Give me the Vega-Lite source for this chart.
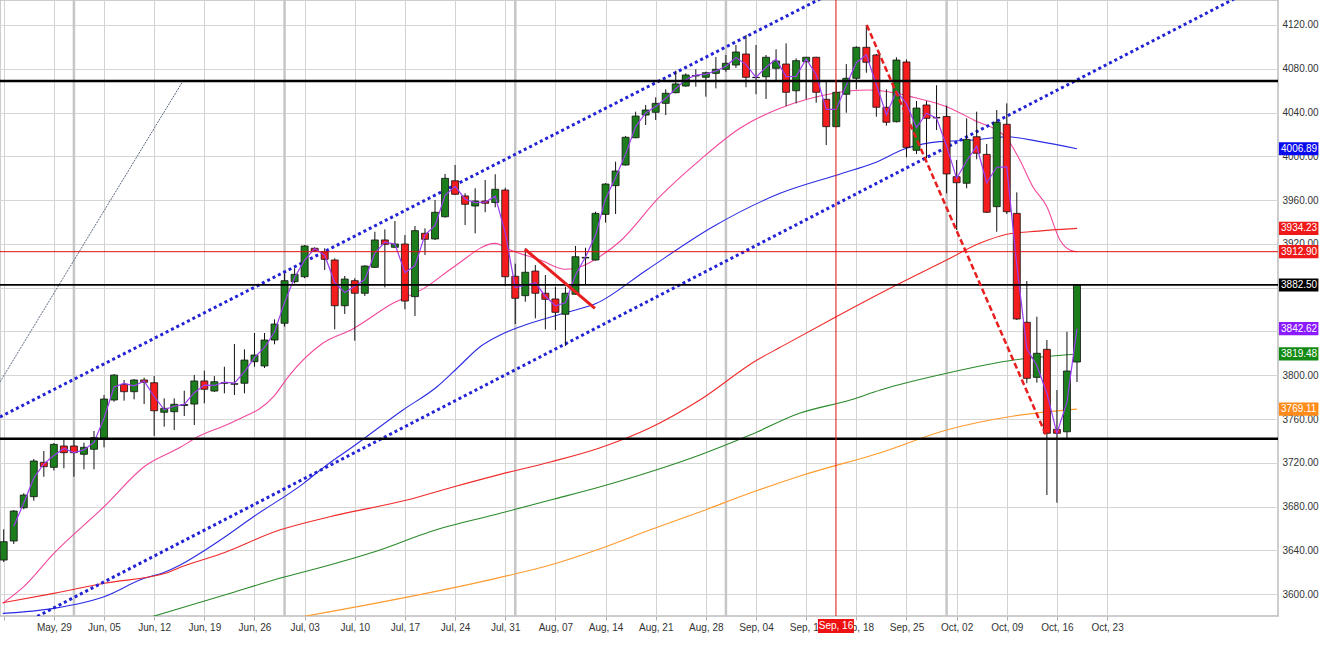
{
  "$schema": "https://vega.github.io/schema/vega-lite/v6.json",
  "width": 1278,
  "height": 616,
  "autosize": "none",
  "padding": {"left": 0, "top": 0, "right": 43, "bottom": 30},
  "background": "#ffffff",
  "config": {
    "view": {"stroke": "#bdbdbd", "strokeWidth": 1.5},
    "scale": {"continuousPadding": 0},
    "axis": {"labelFont": "Liberation Sans", "labelFontSize": 10, "labelColor": "#333333"}
  },
  "resolve": {"scale": {"color": "independent", "size": "independent"}},
  "datasets": {
    "candles": [
      {"t": -5, "o": 3631.2, "h": 3659.3, "l": 3629.4, "c": 3648.0, "m": null},
      {"t": -4, "o": 3648.6, "h": 3676.9, "l": 3645.9, "c": 3676.0, "m": 3662.0},
      {"t": -3, "o": 3679.0, "h": 3692.2, "l": 3677.6, "c": 3690.6, "m": 3683.3},
      {"t": -2, "o": 3689.1, "h": 3723.5, "l": 3685.4, "c": 3721.7, "m": 3706.2},
      {"t": -1, "o": 3720.5, "h": 3730.8, "l": 3707.3, "c": 3716.5, "m": 3719.1},
      {"t": 0, "o": 3715.9, "h": 3738.1, "l": 3713.0, "c": 3736.9, "m": 3726.7},
      {"t": 1, "o": 3735.4, "h": 3741.5, "l": 3715.0, "c": 3729.3, "m": 3733.1},
      {"t": 2, "o": 3735.4, "h": 3741.5, "l": 3707.3, "c": 3729.3, "m": 3729.3},
      {"t": 3, "o": 3727.8, "h": 3738.4, "l": 3714.1, "c": 3734.2, "m": 3731.8},
      {"t": 4, "o": 3732.4, "h": 3749.1, "l": 3714.1, "c": 3743.0, "m": 3738.6},
      {"t": 5, "o": 3742.4, "h": 3782.0, "l": 3734.2, "c": 3778.3, "m": 3760.7},
      {"t": 6, "o": 3777.4, "h": 3801.1, "l": 3775.8, "c": 3800.2, "m": 3789.3},
      {"t": 7, "o": 3791.7, "h": 3795.7, "l": 3776.8, "c": 3785.0, "m": 3792.6},
      {"t": 8, "o": 3785.0, "h": 3796.5, "l": 3778.0, "c": 3795.7, "m": 3790.4},
      {"t": 9, "o": 3795.7, "h": 3797.8, "l": 3773.7, "c": 3793.6, "m": 3794.7},
      {"t": 10, "o": 3793.2, "h": 3799.3, "l": 3744.5, "c": 3767.6, "m": 3780.6},
      {"t": 11, "o": 3766.2, "h": 3778.9, "l": 3753.0, "c": 3769.8, "m": 3768.7},
      {"t": 12, "o": 3766.7, "h": 3778.9, "l": 3750.0, "c": 3773.5, "m": 3771.7},
      {"t": 13, "o": 3772.4, "h": 3785.9, "l": 3762.8, "c": 3773.3, "m": 3773.4},
      {"t": 14, "o": 3773.7, "h": 3800.2, "l": 3754.6, "c": 3794.8, "m": 3784.1},
      {"t": 15, "o": 3794.8, "h": 3804.2, "l": 3774.4, "c": 3787.2, "m": 3791.0},
      {"t": 16, "o": 3785.6, "h": 3799.3, "l": 3784.7, "c": 3794.1, "m": 3790.7},
      {"t": 17, "o": 3792.7, "h": 3807.8, "l": 3783.5, "c": 3793.2, "m": 3793.7},
      {"t": 18, "o": 3791.8, "h": 3828.6, "l": 3782.0, "c": 3792.3, "m": 3792.8},
      {"t": 19, "o": 3792.7, "h": 3823.7, "l": 3783.5, "c": 3813.9, "m": 3803.1},
      {"t": 20, "o": 3812.4, "h": 3838.6, "l": 3807.8, "c": 3818.5, "m": 3816.2},
      {"t": 21, "o": 3808.5, "h": 3838.6, "l": 3806.6, "c": 3832.2, "m": 3825.4},
      {"t": 22, "o": 3832.2, "h": 3851.1, "l": 3828.3, "c": 3846.8, "m": 3839.5},
      {"t": 23, "o": 3847.5, "h": 3893.1, "l": 3844.4, "c": 3886.4, "m": 3866.6},
      {"t": 24, "o": 3885.5, "h": 3897.7, "l": 3884.0, "c": 3892.2, "m": 3889.3},
      {"t": 25, "o": 3890.0, "h": 3919.0, "l": 3888.6, "c": 3918.1, "m": 3905.2},
      {"t": 26, "o": 3916.0, "h": 3916.9, "l": 3912.9, "c": 3913.5, "m": 3915.8},
      {"t": 27, "o": 3912.9, "h": 3916.0, "l": 3896.2, "c": 3905.9, "m": 3909.7},
      {"t": 28, "o": 3905.3, "h": 3906.8, "l": 3842.0, "c": 3863.5, "m": 3884.7},
      {"t": 29, "o": 3863.5, "h": 3890.7, "l": 3856.0, "c": 3887.9, "m": 3875.7},
      {"t": 30, "o": 3886.4, "h": 3888.6, "l": 3831.6, "c": 3874.9, "m": 3881.4},
      {"t": 31, "o": 3874.9, "h": 3900.5, "l": 3872.4, "c": 3899.8, "m": 3887.4},
      {"t": 32, "o": 3898.6, "h": 3931.1, "l": 3898.0, "c": 3923.6, "m": 3911.7},
      {"t": 33, "o": 3923.6, "h": 3933.3, "l": 3880.3, "c": 3919.6, "m": 3921.6},
      {"t": 34, "o": 3916.9, "h": 3940.9, "l": 3916.5, "c": 3919.9, "m": 3919.8},
      {"t": 35, "o": 3919.9, "h": 3928.1, "l": 3860.3, "c": 3867.8, "m": 3893.9},
      {"t": 36, "o": 3871.8, "h": 3936.3, "l": 3854.1, "c": 3932.1, "m": 3900.0},
      {"t": 37, "o": 3929.7, "h": 3934.2, "l": 3909.9, "c": 3924.2, "m": 3928.2},
      {"t": 38, "o": 3924.5, "h": 3960.1, "l": 3923.6, "c": 3948.9, "m": 3936.6},
      {"t": 39, "o": 3944.8, "h": 3983.9, "l": 3944.0, "c": 3979.9, "m": 3964.4},
      {"t": 40, "o": 3977.7, "h": 3992.1, "l": 3964.8, "c": 3965.3, "m": 3972.6},
      {"t": 41, "o": 3963.8, "h": 3966.2, "l": 3937.3, "c": 3956.2, "m": 3960.8},
      {"t": 42, "o": 3954.6, "h": 3970.8, "l": 3929.7, "c": 3959.2, "m": 3957.7},
      {"t": 43, "o": 3959.2, "h": 3978.4, "l": 3948.9, "c": 3957.1, "m": 3958.2},
      {"t": 44, "o": 3957.8, "h": 3983.6, "l": 3953.4, "c": 3969.9, "m": 3963.5},
      {"t": 45, "o": 3969.2, "h": 3971.3, "l": 3881.5, "c": 3890.0, "m": 3930.0},
      {"t": 46, "o": 3890.4, "h": 3901.9, "l": 3846.8, "c": 3870.3, "m": 3880.2},
      {"t": 47, "o": 3872.7, "h": 3916.0, "l": 3867.2, "c": 3894.1, "m": 3882.2},
      {"t": 48, "o": 3895.2, "h": 3900.7, "l": 3852.0, "c": 3874.9, "m": 3884.5},
      {"t": 49, "o": 3874.9, "h": 3891.6, "l": 3842.0, "c": 3869.4, "m": 3872.2},
      {"t": 50, "o": 3869.7, "h": 3880.9, "l": 3841.3, "c": 3857.5, "m": 3863.5},
      {"t": 51, "o": 3855.7, "h": 3880.9, "l": 3826.7, "c": 3874.9, "m": 3866.2},
      {"t": 52, "o": 3874.0, "h": 3918.1, "l": 3873.5, "c": 3908.3, "m": 3891.6},
      {"t": 53, "o": 3907.1, "h": 3916.5, "l": 3883.4, "c": 3907.7, "m": 3908.0},
      {"t": 54, "o": 3905.3, "h": 3949.4, "l": 3904.7, "c": 3947.9, "m": 3927.8},
      {"t": 55, "o": 3947.0, "h": 3975.5, "l": 3939.4, "c": 3974.7, "m": 3961.3},
      {"t": 56, "o": 3973.2, "h": 3995.1, "l": 3947.3, "c": 3986.6, "m": 3980.7},
      {"t": 57, "o": 3992.1, "h": 4018.6, "l": 3991.5, "c": 4017.4, "m": 4002.0},
      {"t": 58, "o": 4017.0, "h": 4040.8, "l": 4016.5, "c": 4036.8, "m": 4027.1},
      {"t": 59, "o": 4037.7, "h": 4046.9, "l": 4028.6, "c": 4042.3, "m": 4039.6},
      {"t": 60, "o": 4040.2, "h": 4053.9, "l": 4033.2, "c": 4048.4, "m": 4045.4},
      {"t": 61, "o": 4048.4, "h": 4061.2, "l": 4037.7, "c": 4057.6, "m": 4053.0},
      {"t": 62, "o": 4058.1, "h": 4078.2, "l": 4057.6, "c": 4066.1, "m": 4061.9},
      {"t": 63, "o": 4064.2, "h": 4075.8, "l": 4063.6, "c": 4074.3, "m": 4070.2},
      {"t": 64, "o": 4073.4, "h": 4079.5, "l": 4063.6, "c": 4073.8, "m": 4074.1},
      {"t": 65, "o": 4072.2, "h": 4077.3, "l": 4054.5, "c": 4076.4, "m": 4075.1},
      {"t": 66, "o": 4075.8, "h": 4090.7, "l": 4062.1, "c": 4079.5, "m": 4078.0},
      {"t": 67, "o": 4079.5, "h": 4092.6, "l": 4077.3, "c": 4085.0, "m": 4082.3},
      {"t": 68, "o": 4083.4, "h": 4101.7, "l": 4080.7, "c": 4095.3, "m": 4090.2},
      {"t": 69, "o": 4093.5, "h": 4110.8, "l": 4063.1, "c": 4072.2, "m": 4083.8},
      {"t": 70, "o": 4071.9, "h": 4101.7, "l": 4056.7, "c": 4072.2, "m": 4072.2},
      {"t": 71, "o": 4072.7, "h": 4092.6, "l": 4052.4, "c": 4090.5, "m": 4081.4},
      {"t": 72, "o": 4080.4, "h": 4097.8, "l": 4069.7, "c": 4087.1, "m": 4088.8},
      {"t": 73, "o": 4084.3, "h": 4103.2, "l": 4046.0, "c": 4058.5, "m": 4072.8},
      {"t": 74, "o": 4059.9, "h": 4089.5, "l": 4048.4, "c": 4087.4, "m": 4073.0},
      {"t": 75, "o": 4086.4, "h": 4090.9, "l": 4052.1, "c": 4090.5, "m": 4089.0},
      {"t": 76, "o": 4090.5, "h": 4090.9, "l": 4049.0, "c": 4058.5, "m": 4074.5},
      {"t": 77, "o": 4052.1, "h": 4068.2, "l": 4010.3, "c": 4027.1, "m": 4042.8},
      {"t": 78, "o": 4027.1, "h": 4068.2, "l": 4026.5, "c": 4058.5, "m": 4042.8},
      {"t": 79, "o": 4056.7, "h": 4084.3, "l": 4039.8, "c": 4071.3, "m": 4064.9},
      {"t": 80, "o": 4071.3, "h": 4100.5, "l": 4061.2, "c": 4099.6, "m": 4085.5},
      {"t": 81, "o": 4099.6, "h": 4120.0, "l": 4076.4, "c": 4085.9, "m": 4092.8},
      {"t": 82, "o": 4092.6, "h": 4093.5, "l": 4036.2, "c": 4044.8, "m": 4065.4},
      {"t": 83, "o": 4044.8, "h": 4061.2, "l": 4028.0, "c": 4031.1, "m": 4038.0},
      {"t": 84, "o": 4031.6, "h": 4090.5, "l": 4031.0, "c": 4088.0, "m": 4059.6},
      {"t": 85, "o": 4086.2, "h": 4088.6, "l": 3999.1, "c": 4008.2, "m": 4048.1},
      {"t": 86, "o": 4005.5, "h": 4050.5, "l": 4002.1, "c": 4044.1, "m": 4026.2},
      {"t": 87, "o": 4046.9, "h": 4050.5, "l": 3998.2, "c": 4034.7, "m": 4039.4},
      {"t": 88, "o": 4035.5, "h": 4064.9, "l": 4024.0, "c": 4035.0, "m": 4034.9},
      {"t": 89, "o": 4036.4, "h": 4046.4, "l": 3966.2, "c": 3983.9, "m": 4009.5},
      {"t": 90, "o": 3981.4, "h": 3996.6, "l": 3932.7, "c": 3975.9, "m": 3979.9},
      {"t": 91, "o": 3975.4, "h": 4034.7, "l": 3970.8, "c": 4015.5, "m": 3995.7},
      {"t": 92, "o": 4017.9, "h": 4040.8, "l": 3997.3, "c": 4002.8, "m": 4009.2},
      {"t": 93, "o": 4001.8, "h": 4011.3, "l": 3948.3, "c": 3948.9, "m": 3975.9},
      {"t": 94, "o": 3954.0, "h": 4042.3, "l": 3931.1, "c": 4031.1, "m": 3990.0},
      {"t": 95, "o": 4029.3, "h": 4048.4, "l": 3947.3, "c": 3949.4, "m": 3990.3},
      {"t": 96, "o": 3947.9, "h": 3967.1, "l": 3850.5, "c": 3851.4, "m": 3900.4},
      {"t": 97, "o": 3848.4, "h": 3886.1, "l": 3792.7, "c": 3797.2, "m": 3824.3},
      {"t": 98, "o": 3798.1, "h": 3853.5, "l": 3793.2, "c": 3820.1, "m": 3808.7},
      {"t": 99, "o": 3823.7, "h": 3832.2, "l": 3690.6, "c": 3747.0, "m": 3783.6},
      {"t": 100, "o": 3750.6, "h": 3786.5, "l": 3683.6, "c": 3747.0, "m": 3747.0},
      {"t": 101, "o": 3748.4, "h": 3839.8, "l": 3742.4, "c": 3803.9, "m": 3775.5},
      {"t": 102, "o": 3812.1, "h": 3882.5, "l": 3793.8, "c": 3882.5, "m": 3842.62}
    ],
    "ma": [
      {"s": "ma20", "t": -5.1, "v": 3591.7}, {"s": "ma20", "t": -3.0, "v": 3606.9}, {"s": "ma20", "t": 0, "v": 3637.3},
      {"s": "ma20", "t": 5.0, "v": 3679.9}, {"s": "ma20", "t": 9.1, "v": 3717.1}, {"s": "ma20", "t": 12.6, "v": 3734.2},
      {"s": "ma20", "t": 14.3, "v": 3743.6}, {"s": "ma20", "t": 17.9, "v": 3757.6}, {"s": "ma20", "t": 21.9, "v": 3780.4},
      {"s": "ma20", "t": 23.5, "v": 3800.2}, {"s": "ma20", "t": 26.8, "v": 3829.2}, {"s": "ma20", "t": 29.8, "v": 3842.3},
      {"s": "ma20", "t": 33.8, "v": 3865.7}, {"s": "ma20", "t": 36.9, "v": 3879.4}, {"s": "ma20", "t": 39.9, "v": 3899.2},
      {"s": "ma20", "t": 44.0, "v": 3920.5}, {"s": "ma20", "t": 45.5, "v": 3914.4}, {"s": "ma20", "t": 48.5, "v": 3905.3},
      {"s": "ma20", "t": 51.0, "v": 3896.8}, {"s": "ma20", "t": 52.5, "v": 3899.2}, {"s": "ma20", "t": 54.4, "v": 3908.3},
      {"s": "ma20", "t": 56.4, "v": 3922.0}, {"s": "ma20", "t": 60.4, "v": 3963.1}, {"s": "ma20", "t": 64.4, "v": 3996.6},
      {"s": "ma20", "t": 68.4, "v": 4025.6}, {"s": "ma20", "t": 72.4, "v": 4043.9}, {"s": "ma20", "t": 75.1, "v": 4052.1},
      {"s": "ma20", "t": 81.1, "v": 4060.6}, {"s": "ma20", "t": 84.0, "v": 4057.6}, {"s": "ma20", "t": 85.7, "v": 4053.9},
      {"s": "ma20", "t": 89.0, "v": 4045.3}, {"s": "ma20", "t": 91.7, "v": 4033.2}, {"s": "ma20", "t": 95.0, "v": 4016.5},
      {"s": "ma20", "t": 96.3, "v": 3996.6}, {"s": "ma20", "t": 97.6, "v": 3972.3}, {"s": "ma20", "t": 99.0, "v": 3954.0},
      {"s": "ma20", "t": 100.3, "v": 3923.6}, {"s": "ma20", "t": 101.3, "v": 3914.4}, {"s": "ma20", "t": 102, "v": 3912.9},
      {"s": "ma50", "t": -5.1, "v": 3582.5}, {"s": "ma50", "t": 0, "v": 3587.1}, {"s": "ma50", "t": 5.0, "v": 3597.7},
      {"s": "ma50", "t": 9.0, "v": 3614.5}, {"s": "ma50", "t": 10.9, "v": 3619.6}, {"s": "ma50", "t": 12.6, "v": 3626.7},
      {"s": "ma50", "t": 15.1, "v": 3640.4}, {"s": "ma50", "t": 16.6, "v": 3649.5}, {"s": "ma50", "t": 19.9, "v": 3670.8},
      {"s": "ma50", "t": 24.9, "v": 3701.3}, {"s": "ma50", "t": 26.9, "v": 3715.9}, {"s": "ma50", "t": 29.8, "v": 3734.7},
      {"s": "ma50", "t": 34.8, "v": 3768.3}, {"s": "ma50", "t": 38.2, "v": 3789.5}, {"s": "ma50", "t": 40.2, "v": 3806.4},
      {"s": "ma50", "t": 42.5, "v": 3826.1}, {"s": "ma50", "t": 44.5, "v": 3836.8}, {"s": "ma50", "t": 46.5, "v": 3844.4},
      {"s": "ma50", "t": 50.8, "v": 3856.6}, {"s": "ma50", "t": 54.1, "v": 3865.7}, {"s": "ma50", "t": 59.1, "v": 3896.2},
      {"s": "ma50", "t": 65.7, "v": 3935.7}, {"s": "ma50", "t": 72.4, "v": 3966.2}, {"s": "ma50", "t": 78.4, "v": 3983.9},
      {"s": "ma50", "t": 81.7, "v": 3993.6}, {"s": "ma50", "t": 85.0, "v": 4007.3}, {"s": "ma50", "t": 88.3, "v": 4013.4},
      {"s": "ma50", "t": 91.7, "v": 4014.9}, {"s": "ma50", "t": 95.0, "v": 4017.9}, {"s": "ma50", "t": 98.3, "v": 4013.4},
      {"s": "ma50", "t": 102, "v": 4006.89},
      {"s": "ma100", "t": -5.1, "v": 3592.2}, {"s": "ma100", "t": 0, "v": 3600.8}, {"s": "ma100", "t": 5.0, "v": 3610.0},
      {"s": "ma100", "t": 11.3, "v": 3619.6}, {"s": "ma100", "t": 12.6, "v": 3624.6}, {"s": "ma100", "t": 16.6, "v": 3636.7},
      {"s": "ma100", "t": 22.5, "v": 3658.6}, {"s": "ma100", "t": 27.5, "v": 3670.8}, {"s": "ma100", "t": 35.2, "v": 3686.0},
      {"s": "ma100", "t": 39.9, "v": 3698.2}, {"s": "ma100", "t": 44.5, "v": 3709.5}, {"s": "ma100", "t": 49.5, "v": 3720.8},
      {"s": "ma100", "t": 54.4, "v": 3733.6}, {"s": "ma100", "t": 59.4, "v": 3751.8}, {"s": "ma100", "t": 64.4, "v": 3777.4},
      {"s": "ma100", "t": 70.1, "v": 3813.9}, {"s": "ma100", "t": 72.4, "v": 3825.5}, {"s": "ma100", "t": 77.4, "v": 3850.5},
      {"s": "ma100", "t": 82.4, "v": 3874.9}, {"s": "ma100", "t": 89.0, "v": 3905.3}, {"s": "ma100", "t": 92.3, "v": 3920.5},
      {"s": "ma100", "t": 95.0, "v": 3928.8}, {"s": "ma100", "t": 97.3, "v": 3931.1}, {"s": "ma100", "t": 102, "v": 3934.23},
      {"s": "ma200", "t": 9.5, "v": 3578.7}, {"s": "ma200", "t": 12.6, "v": 3587.1}, {"s": "ma200", "t": 17.6, "v": 3600.8},
      {"s": "ma200", "t": 22.5, "v": 3614.5}, {"s": "ma200", "t": 27.5, "v": 3626.7}, {"s": "ma200", "t": 32.5, "v": 3640.4},
      {"s": "ma200", "t": 37.5, "v": 3657.1}, {"s": "ma200", "t": 44.5, "v": 3673.9}, {"s": "ma200", "t": 49.5, "v": 3686.0},
      {"s": "ma200", "t": 54.4, "v": 3697.9}, {"s": "ma200", "t": 59.4, "v": 3711.6}, {"s": "ma200", "t": 64.4, "v": 3727.2},
      {"s": "ma200", "t": 69.4, "v": 3745.4}, {"s": "ma200", "t": 74.4, "v": 3765.5}, {"s": "ma200", "t": 79.4, "v": 3777.4},
      {"s": "ma200", "t": 82.4, "v": 3786.5}, {"s": "ma200", "t": 89.0, "v": 3801.8}, {"s": "ma200", "t": 95.7, "v": 3813.9},
      {"s": "ma200", "t": 102, "v": 3819.48},
      {"s": "ma300", "t": 24.0, "v": 3578.2}, {"s": "ma300", "t": 44.5, "v": 3615.4}, {"s": "ma300", "t": 49.5, "v": 3626.7},
      {"s": "ma300", "t": 54.4, "v": 3641.3}, {"s": "ma300", "t": 59.4, "v": 3658.6}, {"s": "ma300", "t": 64.4, "v": 3675.1},
      {"s": "ma300", "t": 69.4, "v": 3692.4}, {"s": "ma300", "t": 74.4, "v": 3708.0}, {"s": "ma300", "t": 82.4, "v": 3729.3},
      {"s": "ma300", "t": 89.0, "v": 3750.0}, {"s": "ma300", "t": 95.7, "v": 3762.8}, {"s": "ma300", "t": 102, "v": 3769.11}
    ],
    "trend": [
      {"id": "up", "t": -5.37, "v": 3761.9}, {"id": "up", "t": 78.0, "v": 4151.3},
      {"id": "lo", "t": -5.37, "v": 3562.2}, {"id": "lo", "t": 122.04, "v": 4164.5},
      {"id": "fan", "t": -5.37, "v": 3793.9}, {"id": "fan", "t": 12.87, "v": 4068.8},
      {"id": "drop", "t": 81.04, "v": 4120.0}, {"id": "drop", "t": 98.98, "v": 3743.9},
      {"id": "pull", "t": 46.97, "v": 3915.1}, {"id": "pull", "t": 53.94, "v": 3861.2}
    ],
    "levels": [
      {"k": "sup", "v": 4068.9},
      {"k": "sup", "v": 3742.0},
      {"k": "last", "v": 3882.5},
      {"k": "lvl", "v": 3912.9}
    ],
    "months": [{"t": 2}, {"t": 23}, {"t": 46}, {"t": 67}, {"t": 89}],
    "cursor": [{"t": 77.97, "label": "Sep, 16"}],
    "badges": [
      {"label": "4006.89", "v": 4006.89, "s": "blue"},
      {"label": "3934.23", "v": 3934.23, "s": "red"},
      {"label": "3912.90", "v": 3912.9, "s": "red"},
      {"label": "3882.50", "v": 3882.5, "s": "black"},
      {"label": "3842.62", "v": 3842.62, "s": "purple"},
      {"label": "3819.48", "v": 3819.48, "s": "green"},
      {"label": "3769.11", "v": 3769.11, "s": "orange"}
    ]
  },
  "layer": [
    {
      "data": {"name": "months"},
      "mark": {"type": "rule", "color": "#c6c6c6", "strokeWidth": 2.5},
      "encoding": {
        "x": {
          "field": "t", "type": "quantitative",
          "scale": {"domain": [-5.37, 122.04], "nice": false, "zero": false, "padding": 0},
          "axis": {
            "orient": "bottom", "title": null,
            "values": [-5, 0, 5, 10, 15, 20, 25, 30, 35, 40, 45, 50, 55, 60, 65, 70, 75, 80, 85, 90, 95, 100, 105],
            "labelExpr": "['', 'May, 29', 'Jun, 05', 'Jun, 12', 'Jun, 19', 'Jun, 26', 'Jul, 03', 'Jul, 10', 'Jul, 17', 'Jul, 24', 'Jul, 31', 'Aug, 07', 'Aug, 14', 'Aug, 21', 'Aug, 28', 'Sep, 04', 'Sep, 11', 'Sep, 18', 'Sep, 25', 'Oct, 02', 'Oct, 09', 'Oct, 16', 'Oct, 23'][round((datum.value + 5) / 5)]",
            "grid": true, "gridColor": "#d3d3d3",
            "ticks": true, "tickSize": 4, "tickColor": "#b0b0b0",
            "domain": false, "labelPadding": 2, "labelOverlap": false, "labelFlush": false, "labelBound": false
          }
        }
      }
    },
    {
      "data": {"name": "ma"},
      "mark": {"type": "line", "strokeWidth": 1.1, "clip": true, "interpolate": "monotone"},
      "encoding": {
        "x": {"field": "t", "type": "quantitative", "scale": {"domain": [-5.37, 122.04], "nice": false, "zero": false, "padding": 0}},
        "y": {
          "field": "v", "type": "quantitative",
          "scale": {"domain": [3580.1, 4142.8], "nice": false, "zero": false, "padding": 0},
          "axis": {
            "orient": "right", "title": null,
            "values": [3600, 3620, 3640, 3660, 3680, 3700, 3720, 3740, 3760, 3780, 3800, 3820, 3840, 3860, 3880, 3900, 3920, 3940, 3960, 3980, 4000, 4020, 4040, 4060, 4080, 4100, 4120, 4140],
            "labelExpr": "(datum.value > 4130 || datum.value == 3880 || datum.value == 3840 || datum.value == 3820) ? '' : format(datum.value, '.2f')",
            "grid": true, "gridColor": "#d6d6d6",
            "ticks": false, "domain": false, "labelPadding": 4, "labelOverlap": false, "labelFlush": false, "labelBound": false
          }
        },
        "color": {
          "field": "s", "type": "nominal",
          "scale": {"domain": ["ma20", "ma50", "ma100", "ma200", "ma300"], "range": ["#f2479b", "#2b2be3", "#f02a2a", "#2b8a2b", "#ff9b2f"]},
          "legend": null
        }
      }
    },
    {
      "data": {"name": "trend"},
      "transform": [{"filter": "datum.id === 'up' || datum.id === 'lo'"}],
      "mark": {"type": "line", "color": "#2323d6", "strokeWidth": 3, "strokeDash": [3, 3], "clip": true},
      "encoding": {
        "x": {"field": "t", "type": "quantitative", "scale": {"domain": [-5.37, 122.04], "nice": false, "zero": false, "padding": 0}},
        "y": {"field": "v", "type": "quantitative", "scale": {"domain": [3580.1, 4142.8], "nice": false, "zero": false, "padding": 0}},
        "detail": {"field": "id"}
      }
    },
    {
      "data": {"name": "trend"},
      "transform": [{"filter": "datum.id === 'fan'"}],
      "mark": {"type": "line", "color": "#5a6a80", "strokeWidth": 1, "strokeDash": [2, 1], "clip": true},
      "encoding": {
        "x": {"field": "t", "type": "quantitative", "scale": {"domain": [-5.37, 122.04], "nice": false, "zero": false, "padding": 0}},
        "y": {"field": "v", "type": "quantitative", "scale": {"domain": [3580.1, 4142.8], "nice": false, "zero": false, "padding": 0}}
      }
    },
    {
      "data": {"name": "candles"},
      "mark": {"type": "rule", "color": "#111111", "strokeWidth": 1},
      "encoding": {
        "x": {"field": "t", "type": "quantitative", "scale": {"domain": [-5.37, 122.04], "nice": false, "zero": false, "padding": 0}},
        "y": {"field": "l", "type": "quantitative", "scale": {"domain": [3580.1, 4142.8], "nice": false, "zero": false, "padding": 0}},
        "y2": {"field": "h"}
      }
    },
    {
      "data": {"name": "candles"},
      "mark": {"type": "bar", "size": 7, "stroke": "#111111", "strokeWidth": 0.8},
      "encoding": {
        "x": {"field": "t", "type": "quantitative", "scale": {"domain": [-5.37, 122.04], "nice": false, "zero": false, "padding": 0}},
        "y": {"field": "o", "type": "quantitative", "scale": {"domain": [3580.1, 4142.8], "nice": false, "zero": false, "padding": 0}},
        "y2": {"field": "c"},
        "color": {"condition": {"test": "datum.c >= datum.o", "value": "#1b7d1b"}, "value": "#f41c1c"}
      }
    },
    {
      "data": {"name": "candles"},
      "mark": {"type": "line", "color": "#9a3df0", "strokeWidth": 1.2},
      "encoding": {
        "x": {"field": "t", "type": "quantitative", "scale": {"domain": [-5.37, 122.04], "nice": false, "zero": false, "padding": 0}},
        "y": {"field": "m", "type": "quantitative", "scale": {"domain": [3580.1, 4142.8], "nice": false, "zero": false, "padding": 0}}
      }
    },
    {
      "data": {"name": "levels"},
      "mark": {"type": "rule"},
      "encoding": {
        "y": {"field": "v", "type": "quantitative", "scale": {"domain": [3580.1, 4142.8], "nice": false, "zero": false, "padding": 0}},
        "color": {"field": "k", "type": "nominal", "scale": {"domain": ["sup", "last", "lvl"], "range": ["#000000", "#000000", "#e01010"]}, "legend": null},
        "size": {"field": "k", "type": "nominal", "scale": {"domain": ["sup", "last", "lvl"], "range": [2.5, 1, 1]}, "legend": null}
      }
    },
    {
      "data": {"name": "trend"},
      "transform": [{"filter": "datum.id === 'drop'"}],
      "mark": {"type": "line", "color": "#e81e1e", "strokeWidth": 2.5, "strokeDash": [6, 3], "clip": true},
      "encoding": {
        "x": {"field": "t", "type": "quantitative", "scale": {"domain": [-5.37, 122.04], "nice": false, "zero": false, "padding": 0}},
        "y": {"field": "v", "type": "quantitative", "scale": {"domain": [3580.1, 4142.8], "nice": false, "zero": false, "padding": 0}}
      }
    },
    {
      "data": {"name": "trend"},
      "transform": [{"filter": "datum.id === 'pull'"}],
      "mark": {"type": "line", "color": "#e81e1e", "strokeWidth": 3, "clip": true},
      "encoding": {
        "x": {"field": "t", "type": "quantitative", "scale": {"domain": [-5.37, 122.04], "nice": false, "zero": false, "padding": 0}},
        "y": {"field": "v", "type": "quantitative", "scale": {"domain": [3580.1, 4142.8], "nice": false, "zero": false, "padding": 0}}
      }
    },
    {
      "data": {"name": "cursor"},
      "mark": {"type": "rule", "color": "#e01010", "strokeWidth": 1},
      "encoding": {
        "x": {"field": "t", "type": "quantitative", "scale": {"domain": [-5.37, 122.04], "nice": false, "zero": false, "padding": 0}}
      }
    },
    {
      "data": {"name": "badges"},
      "mark": {"type": "point", "shape": "M-1,-0.333H1V0.333H-1Z", "size": 1560, "filled": true, "opacity": 1, "strokeWidth": 0},
      "encoding": {
        "x": {"datum": 124.1, "type": "quantitative", "scale": {"domain": [-5.37, 122.04], "nice": false, "zero": false, "padding": 0}},
        "y": {"field": "v", "type": "quantitative", "scale": {"domain": [3580.1, 4142.8], "nice": false, "zero": false, "padding": 0}},
        "color": {
          "field": "s", "type": "nominal",
          "scale": {"domain": ["blue", "red", "black", "purple", "green", "orange"], "range": ["#0a0aee", "#ee1a1a", "#000000", "#8a1aff", "#138a13", "#ff8c1a"]},
          "legend": null
        }
      }
    },
    {
      "data": {"name": "badges"},
      "mark": {"type": "text", "align": "left", "baseline": "middle", "fontSize": 10, "font": "Liberation Sans", "color": "#ffffff"},
      "encoding": {
        "x": {"datum": 122.34, "type": "quantitative", "scale": {"domain": [-5.37, 122.04], "nice": false, "zero": false, "padding": 0}},
        "y": {"field": "v", "type": "quantitative", "scale": {"domain": [3580.1, 4142.8], "nice": false, "zero": false, "padding": 0}},
        "text": {"field": "label"}
      }
    },
    {
      "data": {"name": "cursor"},
      "mark": {"type": "point", "shape": "M-1,-0.389H1V0.389H-1Z", "size": 1296, "filled": true, "opacity": 1, "strokeWidth": 0, "color": "#ee1111"},
      "encoding": {
        "x": {"field": "t", "type": "quantitative", "scale": {"domain": [-5.37, 122.04], "nice": false, "zero": false, "padding": 0}},
        "y": {"datum": 3570.95, "type": "quantitative", "scale": {"domain": [3580.1, 4142.8], "nice": false, "zero": false, "padding": 0}}
      }
    },
    {
      "data": {"name": "cursor"},
      "mark": {"type": "text", "align": "center", "baseline": "middle", "fontSize": 10, "font": "Liberation Sans", "color": "#ffffff"},
      "encoding": {
        "x": {"field": "t", "type": "quantitative", "scale": {"domain": [-5.37, 122.04], "nice": false, "zero": false, "padding": 0}},
        "y": {"datum": 3570.95, "type": "quantitative", "scale": {"domain": [3580.1, 4142.8], "nice": false, "zero": false, "padding": 0}},
        "text": {"field": "label"}
      }
    }
  ]
}
